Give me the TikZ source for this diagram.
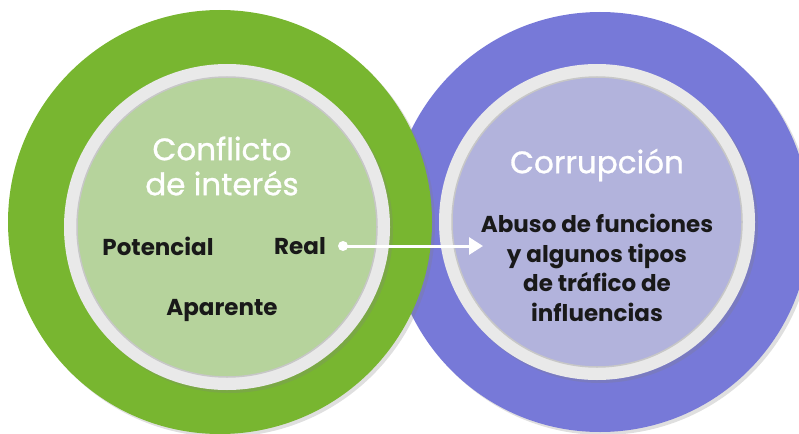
\documentclass[tikz,border=0pt]{standalone}
\usepackage{fontspec}
\setmainfont{Poppins}
\newfontfamily\headfont[FakeBold=0.9]{Poppins}
\usetikzlibrary{shadows,arrows.meta}
\definecolor{gOuter}{RGB}{120,182,48}
\definecolor{gInner}{RGB}{182,211,156}
\definecolor{pOuter}{RGB}{119,121,216}
\definecolor{pInner}{RGB}{178,179,220}
\definecolor{ringC}{RGB}{233,233,233}
\tikzset{
  disc/.style={circle, inner sep=0pt, minimum size=#1},
  softshadow/.style={drop shadow={shadow xshift=3pt, shadow yshift=-3pt, opacity=0.25}},
  innerdisc/.style={draw=black!22, line width=1.5pt},
  headtxt/.style={text=white, font=\headfont\fontsize{31}{35}\selectfont, align=center, inner sep=0pt},
  bodytxt/.style={text=black!90, font=\bfseries\fontsize{23}{29.5}\selectfont, align=center, inner sep=0pt},
}
\begin{document}
\begin{tikzpicture}[x=1pt,y=-1pt]
\useasboundingbox (0,0) rectangle (799,433);
\clip (0,0) rectangle (799,433);
% outer discs
\node[disc=420pt, fill=pOuter, softshadow] (pout) at (600,222) {};
\node[disc=424pt, fill=gOuter, softshadow] (gout) at (220,222) {};
% rings and inner discs
\node[disc=326pt, fill=ringC, softshadow] (gring) at (227,227) {};
\node[disc=300pt, fill=gInner, innerdisc] (gin) at (227,227) {};
\node[disc=316pt, fill=ringC, softshadow] (pring) at (597,222) {};
\node[disc=290pt, fill=pInner, innerdisc] (pin) at (597,222) {};
% headings
\node[headtxt] (h1) at (222,166) {Conflicto\\de interés};
\node[headtxt] (h2) at (597,165) {Corrupción};
% body text
\node[bodytxt] (pot) at (158,246) {Potencial};
\node[bodytxt] (real) at (300,246) {Real};
\node[bodytxt] (apa) at (222,310) {Aparente};
\node[bodytxt] (abu) at (597,268) {Abuso de funciones\\y algunos tipos\\de tráfico de\\influencias};
% connector
\node[circle, fill=white, inner sep=0pt, minimum size=10pt] (dot) at (343,246) {};
\coordinate (tip) at (483,246);
\draw[white, line width=3pt, -{Triangle[length=14pt,width=17pt]}] (dot.center) -- (tip);
\end{tikzpicture}
\end{document}
